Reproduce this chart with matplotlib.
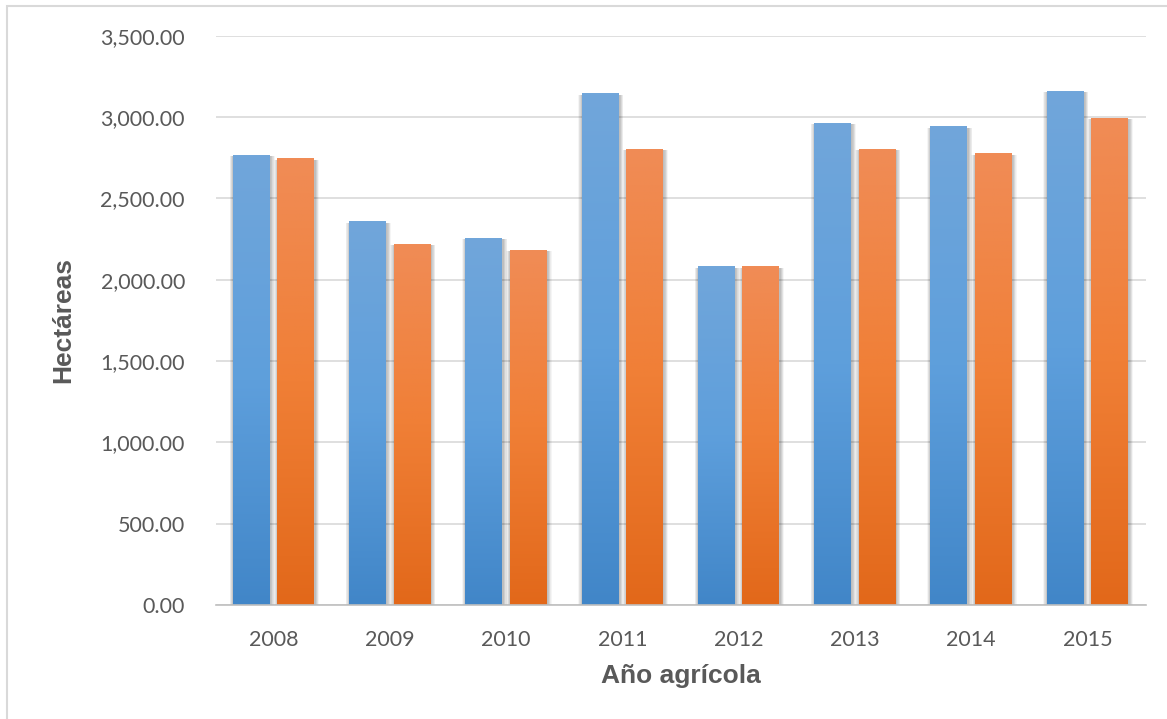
import numpy as np
import matplotlib.pyplot as plt
from matplotlib.colors import LinearSegmentedColormap
from matplotlib.patches import Rectangle
from matplotlib.ticker import FuncFormatter

years = ['2008', '2009', '2010', '2011', '2012', '2013', '2014', '2015']
serie_azul = [2766, 2355, 2256, 3142, 2078, 2963, 2939, 3160]
serie_naranja = [2742, 2219, 2182, 2803, 2078, 2803, 2773, 2994]

W, H = 1167, 719
fig = plt.figure(figsize=(W / 100, H / 100), dpi=100)
ax = fig.add_axes([215.5 / W, 114 / H, 930 / W, 569.3 / H])

# gradient colormaps (bottom -> top)
cm_blue = LinearSegmentedColormap.from_list('b', ['#4186c8', '#5e9fdc', '#71a6da'])
cm_orange = LinearSegmentedColormap.from_list('o', ['#e2681a', '#f07f36', '#f08c56'])
grad = np.linspace(0, 1, 256).reshape(-1, 1)

bw = 0.318
off = 0.191
x = np.arange(len(years))


def draw_bar(xc, h, cmap):
    # soft shadow
    for k in range(7):
        pad = 0.005 * (k + 1)
        ax.add_patch(Rectangle((xc - bw / 2 - pad + 0.006, 0), bw + 2 * pad,
                               h + pad * 30 - 8, color='black', alpha=0.04,
                               lw=0, zorder=2))
    ax.imshow(grad, cmap=cmap, origin='lower', aspect='auto',
              extent=(xc - bw / 2, xc + bw / 2, 0, h), zorder=3)


for i in range(len(years)):
    draw_bar(x[i] - off, serie_azul[i], cm_blue)
    draw_bar(x[i] + off, serie_naranja[i], cm_orange)

ax.set_xlim(-0.5, len(years) - 0.5)
ax.set_ylim(0, 3500)
ax.set_yticks(np.arange(0, 3501, 500))
ax.yaxis.set_major_formatter(FuncFormatter(lambda v, p: f'{v:,.2f}'))
ax.set_xticks(x)
ax.set_xticklabels(years)

ax.grid(axis='y', color='#d9d9d9', lw=1.2, zorder=0)
ax.set_axisbelow(True)
for s in ['top', 'right', 'left']:
    ax.spines[s].set_visible(False)
ax.spines['bottom'].set_color('#bfbfbf')
ax.spines['bottom'].set_linewidth(1.2)
ax.spines['bottom'].set_zorder(4)
ax.tick_params(axis='both', length=0, labelsize=15.5, labelcolor='#595959')
ax.tick_params(axis='y', pad=22)
ax.tick_params(axis='x', pad=18)
for lab in ax.get_xticklabels() + ax.get_yticklabels():
    lab.set_family('Lato')

ax.set_xlabel('Año agrícola', fontsize=19, fontweight='bold', color='#595959',
              family='Liberation Sans', labelpad=10)
ax.set_ylabel('Hectáreas', fontsize=19, fontweight='bold', color='#595959',
              family='Liberation Sans', labelpad=18)

# outer chart border
fig.add_artist(Rectangle((7 / W, -0.1), 1.2, (713 + 72) / H, transform=fig.transFigure,
                         fill=False, edgecolor='#d9d9d9', lw=1.5))

fig.savefig('out.png', dpi=100)
